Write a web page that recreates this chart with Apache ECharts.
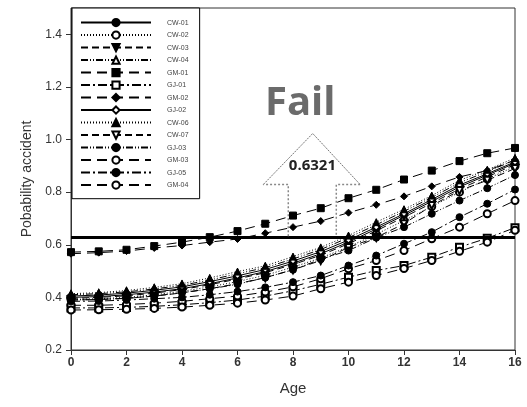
<!DOCTYPE html>
<html>
<head>
<meta charset="utf-8">
<script src="https://cdn.jsdelivr.net/npm/echarts@6/dist/echarts.min.js"></script>
<style>
  html, body { margin: 0; padding: 0; background: #fff; }
  #chart { width: 527px; height: 407px; }
</style>
</head>
<body>
<div id="chart"></div>
<script>
// ages on the x axis
const ages = [0, 1, 2, 3, 4, 5, 6, 7, 8, 9, 10, 11, 12, 13, 14, 15, 16];
const yTicks = [0.2, 0.4, 0.6, 0.8, 1.0, 1.2, 1.4];
const failLevel = 0.6321;

// values, one array per site
const cw01 = [0.400, 0.403, 0.410, 0.420, 0.433, 0.452, 0.474, 0.498, 0.530, 0.566, 0.610, 0.660, 0.712, 0.765, 0.820, 0.865, 0.910];
const cw02 = [0.392, 0.395, 0.400, 0.410, 0.423, 0.440, 0.460, 0.484, 0.515, 0.550, 0.592, 0.640, 0.692, 0.745, 0.800, 0.850, 0.898];
const cw03 = [0.396, 0.400, 0.406, 0.416, 0.430, 0.448, 0.470, 0.494, 0.525, 0.560, 0.604, 0.653, 0.705, 0.758, 0.812, 0.858, 0.905];
const cw04 = [0.410, 0.414, 0.421, 0.432, 0.446, 0.466, 0.490, 0.513, 0.546, 0.582, 0.627, 0.676, 0.727, 0.780, 0.836, 0.878, 0.922];
const gm01 = [0.572, 0.575, 0.581, 0.595, 0.610, 0.629, 0.652, 0.680, 0.711, 0.739, 0.777, 0.809, 0.848, 0.882, 0.918, 0.948, 0.968];
const gj01 = [0.360, 0.360, 0.362, 0.366, 0.372, 0.380, 0.390, 0.405, 0.425, 0.450, 0.477, 0.502, 0.521, 0.553, 0.591, 0.625, 0.665];
const gm02 = [0.566, 0.570, 0.576, 0.588, 0.597, 0.610, 0.622, 0.644, 0.667, 0.690, 0.722, 0.752, 0.784, 0.822, 0.858, 0.882, 0.922];
const gj02 = [0.405, 0.409, 0.416, 0.427, 0.440, 0.460, 0.482, 0.506, 0.538, 0.574, 0.618, 0.667, 0.718, 0.772, 0.827, 0.870, 0.915];
const cw06 = [0.414, 0.418, 0.426, 0.438, 0.452, 0.474, 0.498, 0.520, 0.555, 0.590, 0.635, 0.686, 0.735, 0.787, 0.845, 0.885, 0.930];
const cw07 = [0.390, 0.392, 0.397, 0.405, 0.417, 0.433, 0.452, 0.475, 0.505, 0.540, 0.590, 0.628, 0.680, 0.749, 0.806, 0.845, 0.890];
const gj03 = [0.390, 0.392, 0.396, 0.405, 0.418, 0.432, 0.450, 0.475, 0.505, 0.545, 0.578, 0.627, 0.667, 0.718, 0.768, 0.815, 0.865];
const gm03 = [0.370, 0.370, 0.373, 0.378, 0.385, 0.395, 0.405, 0.420, 0.440, 0.471, 0.509, 0.540, 0.578, 0.623, 0.667, 0.718, 0.768];
const gj05 = [0.385, 0.386, 0.390, 0.395, 0.400, 0.410, 0.422, 0.438, 0.458, 0.483, 0.521, 0.559, 0.604, 0.648, 0.705, 0.756, 0.810];
const gm04 = [0.352, 0.353, 0.355, 0.358, 0.363, 0.370, 0.378, 0.390, 0.405, 0.433, 0.458, 0.483, 0.510, 0.540, 0.575, 0.610, 0.655];

const dotted = [1, 2];
const dashed = [7, 4];
const dashDotDot = [7, 2, 1, 2, 1, 2];
const longDash = [10, 6];
const dashDot = [9, 3, 2, 3];

const lines = [
  { name: 'CW-01', values: cw01, symbol: 'circle', dash: 'solid' },
  { name: 'CW-02', values: cw02, symbol: 'emptyCircle', dash: dotted },
  { name: 'CW-03', values: cw03, symbol: 'triangle', rotate: 180, dash: dashed },
  { name: 'CW-04', values: cw04, symbol: 'emptyTriangle', dash: dashDotDot },
  { name: 'GM-01', values: gm01, symbol: 'rect', dash: longDash },
  { name: 'GJ-01', values: gj01, symbol: 'emptyRect', dash: dashDot },
  { name: 'GM-02', values: gm02, symbol: 'diamond', dash: longDash },
  { name: 'GJ-02', values: gj02, symbol: 'emptyDiamond', dash: 'solid' },
  { name: 'CW-06', values: cw06, symbol: 'triangle', dash: dotted },
  { name: 'CW-07', values: cw07, symbol: 'emptyTriangle', rotate: 180, dash: dashed },
  { name: 'GJ-03', values: gj03, symbol: 'circle', dash: dashDotDot },
  { name: 'GM-03', values: gm03, symbol: 'emptyCircle', dash: longDash },
  { name: 'GJ-05', values: gj05, symbol: 'circle', dash: dashDot },
  { name: 'GM-04', values: gm04, symbol: 'emptyCircle', dash: longDash }
];

var chartDom = document.getElementById('chart');
var myChart = echarts.init(chartDom);

const series = lines.map((l, i) => {
  const s = {
    name: l.name,
    type: 'line',
    data: ages.map((a, k) => [a, l.values[k]]),
    symbol: l.symbol,
    symbolSize: 7,
    symbolRotate: l.rotate || 0,
    color: '#000',
    lineStyle: { color: '#000', width: 1, type: l.dash },
    itemStyle: { color: '#000', borderColor: '#000', borderWidth: 1 },
    emphasis: { disabled: true },
    animation: false
  };
  if (i === lines.length - 1) {
    s.markLine = {
      silent: true,
      symbol: 'none',
      label: { show: false },
      lineStyle: { color: '#000', width: 3, type: 'solid' },
      data: [{ yAxis: failLevel }]
    };
  }
  return s;
});

var option = {
  animation: false,
  backgroundColor: '#fff',
  grid: {
    left: 71,
    right: 12,
    top: 8,
    bottom: 57,
    show: true,
    borderColor: '#333',
    borderWidth: 1
  },
  legend: {
    orient: 'vertical',
    left: 72,
    top: 8,
    itemWidth: 70,
    itemHeight: 9,
    itemGap: 3.3,
    padding: [10, 11, 9, 8],
    borderColor: '#000',
    borderWidth: 1,
    backgroundColor: '#fff',
    selectedMode: false,
    textStyle: {
      fontFamily: 'Liberation Sans',
      fontSize: 7,
      color: '#444',
      padding: [0, 0, 0, 11]
    },
    data: lines.map(l => l.name)
  },
  xAxis: {
    type: 'value',
    min: 0,
    max: 16,
    interval: 2,
    name: 'Age',
    nameLocation: 'middle',
    nameGap: 31,
    nameTextStyle: { fontFamily: 'Liberation Sans', fontSize: 15, color: '#333' },
    axisLine: { lineStyle: { color: '#333' } },
    axisTick: { show: true, length: 5, lineStyle: { color: '#333' } },
    axisLabel: { fontFamily: 'Liberation Sans', fontSize: 12, fontWeight: 'bold', color: '#333', margin: 7 },
    splitLine: { show: false }
  },
  yAxis: {
    type: 'value',
    min: 0.2,
    max: 1.5,
    interval: 0.2,
    name: 'Pobability accident',
    nameLocation: 'middle',
    nameGap: 34,
    nameTextStyle: { fontFamily: 'Liberation Sans', fontSize: 14, color: '#333' },
    axisLine: { show: true, lineStyle: { color: '#333' } },
    axisTick: { show: true, length: 5, lineStyle: { color: '#333' }, customValues: yTicks },
    axisLabel: {
      fontFamily: 'Liberation Sans',
      fontSize: 12,
      color: '#333',
      margin: 9,
      customValues: yTicks,
      formatter: v => v.toFixed(1)
    },
    splitLine: { show: false }
  },
  series: series
};

option && myChart.setOption(option);

// "Fail" arrow annotation placed in data coordinates
const px = p => myChart.convertToPixel({ gridIndex: 0 }, p);
const shaftL = 7.83, shaftR = 9.56, headL = 6.93, headR = 10.42, tipX = 8.71;
const baseY = 0.829, tipY = 1.023;
const pBL = px([shaftL, failLevel]), pTL = px([shaftL, baseY]);
const pHL = px([headL, baseY]), pTip = px([tipX, tipY]);
const pHR = px([headR, baseY]), pTR = px([shaftR, baseY]), pBR = px([shaftR, failLevel]);
const pFail = px([8.26, 1.137]);
const pNum = px([8.7, 0.9]);

myChart.setOption({
  graphic: [
    {
      type: 'polyline', silent: true, z: 5,
      shape: { points: [pBL, pTL, pHL] },
      style: { stroke: '#888', lineWidth: 1.5, lineDash: [2, 2], fill: null }
    },
    {
      type: 'polyline', silent: true, z: 5,
      shape: { points: [pHL, pTip, pHR] },
      style: { stroke: '#777', lineWidth: 1, lineDash: [2, 1], fill: null }
    },
    {
      type: 'polyline', silent: true, z: 5,
      shape: { points: [pHR, pTR, pBR] },
      style: { stroke: '#888', lineWidth: 1.5, lineDash: [2, 2], fill: null }
    },
    {
      type: 'text', silent: true, z: 6,
      x: pFail[0], y: pFail[1],
      style: {
        text: 'Fail', fontFamily: 'Open Sans', fontWeight: 'bold', fontSize: 40,
        fill: '#6b6b6b', align: 'center', verticalAlign: 'middle'
      }
    },
    {
      type: 'text', silent: true, z: 6,
      x: pNum[0], y: pNum[1],
      style: {
        text: '0.6321', fontFamily: 'Open Sans', fontWeight: 'bold', fontSize: 15,
        fill: '#222', align: 'center', verticalAlign: 'middle'
      }
    }
  ]
});
</script>
</body>
</html>
